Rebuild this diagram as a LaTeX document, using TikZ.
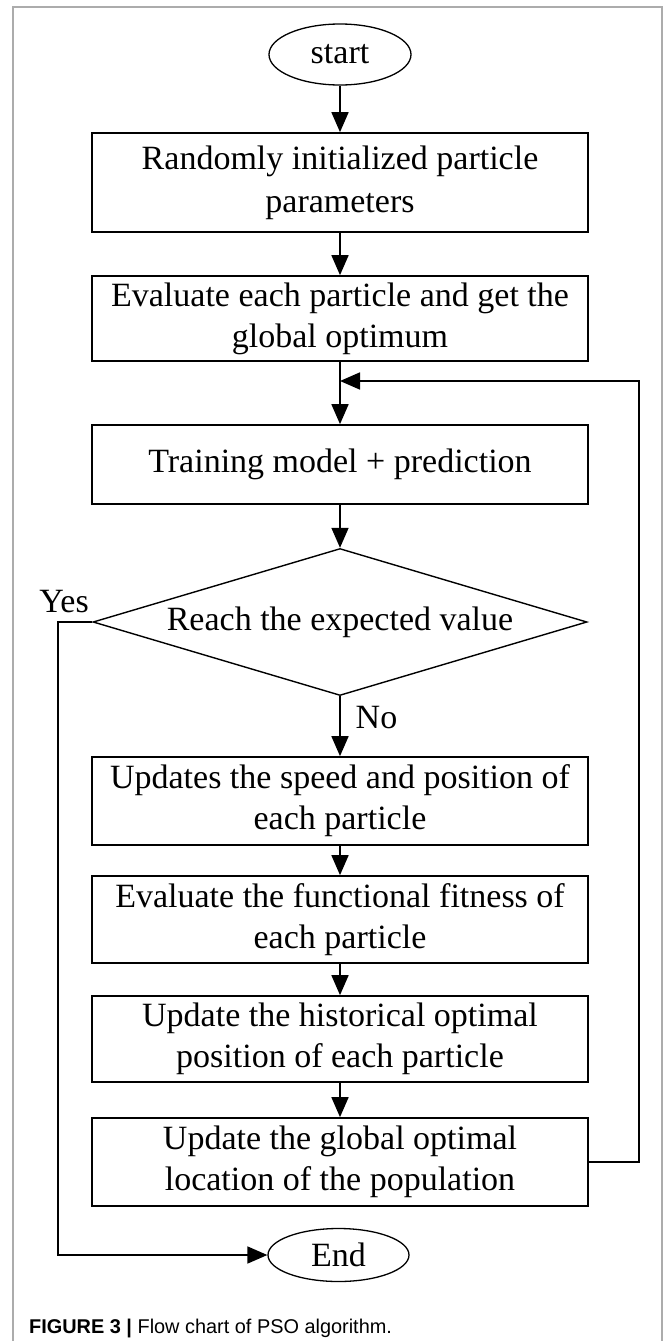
\documentclass[tikz,border=0pt]{standalone}
\usepackage{fontspec}
\setmainfont{Liberation Serif}
\newfontfamily\capfont{Liberation Sans}
\usetikzlibrary{shapes.geometric,arrows.meta}
\begin{document}
\begin{tikzpicture}[x=1pt,y=-1pt,
  every node/.style={font=\fontsize{34}{41}\selectfont, text=black},
  procbox/.style={draw=black, line width=1.7pt, minimum width=496pt, align=center, inner sep=0pt},
  terminal/.style={draw=black, ellipse, line width=1.3pt, inner sep=0pt},
  decision/.style={draw=black, diamond, line width=1.4pt, inner sep=0pt,
    minimum width=494pt, minimum height=147pt},
  flow/.style={line width=1.7pt, -{Triangle[length=20pt,width=17pt]}},
  tag/.style={inner sep=0pt}]
\useasboundingbox (0,0) rectangle (665,1341);
\fill[white] (0,0) rectangle (665,1341);
% outer figure frame
\draw[gray!65, line width=1.3pt] (13,1341) -- (13,7) -- (662,7) -- (662,1341);

% flow chart nodes
\node[terminal, minimum width=142pt, minimum height=61pt] (start) at (340,54.5) {start};
\node[procbox, minimum height=99pt, font=\fontsize{34}{43}\selectfont] (init) at (340,182.5)
  {Randomly initialized particle\\parameters};
\node[procbox, minimum height=85pt] (eval) at (340,318.5)
  {Evaluate each particle and get the\\global optimum};
\node[procbox, minimum height=79pt] (train) at (340,464.5)
  {Training model + prediction};
\node[decision, label={center:Reach the expected value}] (check) at (340,622) {};
\node[procbox, minimum height=88pt] (speed) at (340,801)
  {Updates the speed and position of\\each particle};
\node[procbox, minimum height=87pt] (fit) at (340,919.5)
  {Evaluate the functional fitness of\\each particle};
\node[procbox, minimum height=86pt] (hist) at (340,1039)
  {Update the historical optimal\\position of each particle};
\node[procbox, minimum height=88pt] (glob) at (340,1162)
  {Update the global optimal\\location of the population};
\node[terminal, minimum width=141pt, minimum height=53pt] (end) at (338.5,1255) {End};

% branch labels
\node[tag] (yes) at (64,601.5) {Yes};
\node[tag] (no) at (376.5,718) {No};

% connectors
\coordinate (merge) at (340,381);
\draw[flow] (start) -- (init);
\draw[flow] (init) -- (eval);
\draw[flow] (eval) -- (train);
\draw[flow] (train) -- (check);
\draw[flow] (check) -- (speed);
\draw[flow] (speed) -- (fit);
\draw[flow] (fit) -- (hist);
\draw[flow] (hist) -- (glob);
\draw[flow] (glob.east) -- ++(50,0) |- (merge);
\draw[flow] (check.west) -- ++(-34.5,0) |- (end.west);

% caption
\node[anchor=base west, inner sep=0pt, font=\capfont\fontsize{19.9}{23}\selectfont] (cap) at (29,1333)
  {\textbf{FIGURE 3 |} Flow chart of PSO algorithm.};
\end{tikzpicture}
\end{document}
